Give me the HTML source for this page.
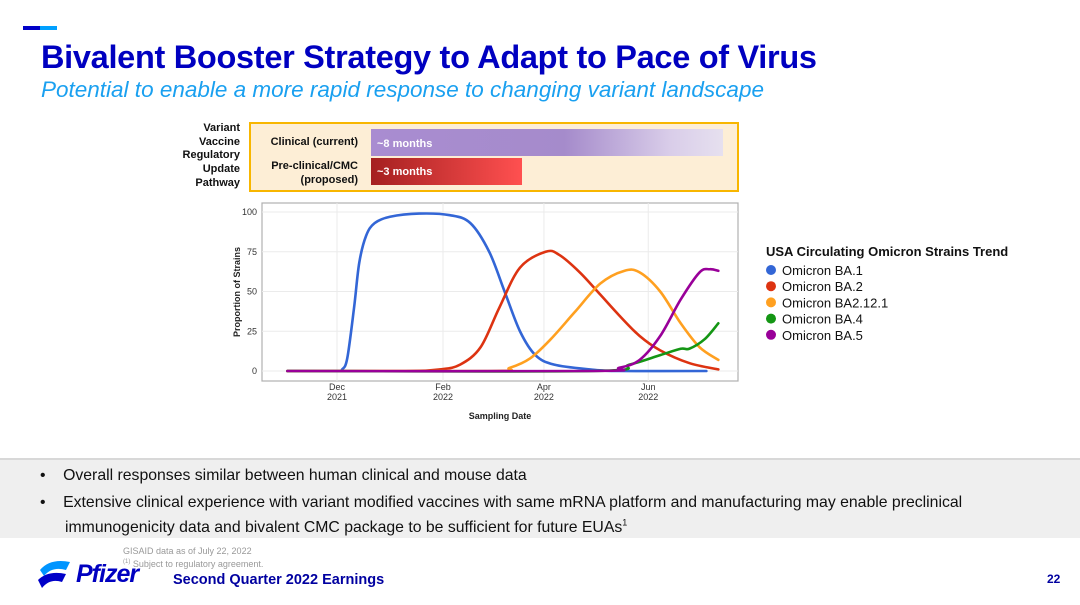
<!DOCTYPE html>
<html><head><meta charset="utf-8"><style>
*{margin:0;padding:0;box-sizing:border-box}
body{width:1080px;height:605px;position:relative;background:#fff;font-family:"Liberation Sans",Arial,sans-serif;overflow:hidden}
.abs{position:absolute}
</style></head><body>
<div class="abs" style="left:23px;top:26px;width:17px;height:4px;background:#0000c8"></div>
<div class="abs" style="left:40px;top:26px;width:17px;height:4px;background:#00a0ff"></div>
<div class="abs" style="left:41px;top:39px;font-size:32.5px;font-weight:bold;color:#0000c0;letter-spacing:-0.3px">Bivalent Booster Strategy to Adapt to Pace of Virus</div>
<div class="abs" style="left:41px;top:77px;font-size:22.5px;font-style:italic;color:#1aa0f0">Potential to enable a more rapid response to changing variant landscape</div>

<div class="abs" style="left:170px;top:122px;width:70px;text-align:right;font-size:11px;font-weight:bold;line-height:13.7px;color:#111">Variant<br>Vaccine<br>Regulatory<br>Update<br>Pathway</div>
<div class="abs" style="left:249px;top:122px;width:490px;height:70px;background:#fdeed6;border:2px solid #f8b600"></div>
<div class="abs" style="left:250px;top:136px;width:108px;text-align:right;font-size:11px;font-weight:bold;color:#111">Clinical (current)</div>
<div class="abs" style="left:371px;top:129px;width:352px;height:27px;background:linear-gradient(90deg,#a98cd1 0%,#a58bcb 55%,#d9cde9 85%,#e6e0ef 100%);color:#fff;font-size:11px;font-weight:bold;padding:9px 0 0 6px">~8 months</div>
<div class="abs" style="left:250px;top:159px;width:108px;text-align:right;font-size:11px;font-weight:bold;line-height:14px;color:#111">Pre-clinical/CMC<br>(proposed)</div>
<div class="abs" style="left:371px;top:158px;width:151px;height:27px;background:linear-gradient(90deg,#a52020,#ff5050);color:#fff;font-size:11px;font-weight:bold;padding:8px 0 0 6px">~3 months</div>

<svg class="abs" style="left:0;top:0" width="1080" height="460">
<rect x="262" y="203" width="476" height="178" fill="#fff" stroke="#b0b0b0" stroke-width="1.2"/>
<g id="grid"></g><g id="axes" font-size="9" fill="#333"></g><g id="lines"></g>
<text x="240" y="292" transform="rotate(-90 240 292)" text-anchor="middle" font-size="9" font-weight="bold" fill="#222">Proportion of Strains</text>
<text x="500" y="419" text-anchor="middle" font-size="9" font-weight="bold" fill="#222">Sampling Date</text>
<text x="766" y="256" font-size="13" font-weight="bold" fill="#111">USA Circulating Omicron Strains Trend</text>
<g id="legend"></g>
</svg>

<div class="abs" style="left:0;top:458px;width:1080px;height:80px;background:#efefef;border-top:2px solid #d8d8d8"></div>
<div class="abs" style="left:40px;top:467px;font-size:15.8px;color:#111">•&nbsp;&nbsp;&nbsp;&nbsp;Overall responses similar between human clinical and mouse data</div>
<div class="abs" style="left:40px;top:493px;font-size:15.8px;color:#111;line-height:20px">•&nbsp;&nbsp;&nbsp;&nbsp;Extensive clinical experience with variant modified vaccines with same mRNA platform and manufacturing may enable preclinical<br><span style="padding-left:25px">immunogenicity data and bivalent CMC package to be sufficient for future EUAs<sup style="font-size:9px">1</sup></span></div>

<div class="abs" style="left:123px;top:546px;font-size:9px;color:#999;line-height:11px">GISAID data as of July 22, 2022<br><sup style="font-size:6px">(1)</sup> Subject to regulatory agreement.</div>
<svg class="abs" style="left:36px;top:556px" width="40" height="40"><path d="M4 14 Q14 2 34 6 L30 14 Q16 10 8 20Z" fill="#0095ff"/><path d="M2 24 Q12 14 30 18 L26 26 Q14 22 6 32Z" fill="#0000c8"/></svg>
<div class="abs" style="left:76px;top:560px;font-size:25px;font-weight:bold;font-style:italic;color:#0000c0;letter-spacing:-1px">Pfizer</div>
<div class="abs" style="left:173px;top:572px;font-size:14.5px;font-weight:bold;color:#0000a0">Second Quarter 2022 Earnings</div>
<div class="abs" style="left:1047px;top:572px;font-size:12px;font-weight:bold;color:#0000a0">22</div>

<script>
const ns="http://www.w3.org/2000/svg";
const yTicks=[0,25,50,75,100];
const xTickDays=[0,62,121,182];
const xTickLabels=["Dec|2021","Feb|2022","Apr|2022","Jun|2022"];
const seriesNames=["Omicron BA.1","Omicron BA.2","Omicron BA2.12.1","Omicron BA.4","Omicron BA.5"];
const seriesColors=["#3366d6","#dd3311","#ffa020","#149614","#990099"];
const ba1Days=[-29,0,3,6,10,13,17,22,31,48,66,78,89,98,107,116,127,148,165,216];
const ba1Vals=[0,0,1,8,40,68,85,93,97,99,98,93,75,50,25,10,4,1,0,0];
const ba2Days=[-29,40,60,72,84,95,107,122,130,142,154,165,177,189,206,223];
const ba2Vals=[0,0,1,4,15,40,65,75,73,62,48,35,22,13,5,1];
const ba212Days=[-29,90,101,113,125,139,154,168,177,189,201,212,223];
const ba212Vals=[0,0,2,8,20,37,55,63,62,50,30,15,7];
const ba4Days=[-29,150,171,189,201,206,215,223];
const ba4Vals=[0,0,4,10,14,14,20,30];
const ba5Days=[-29,150,165,177,189,201,212,218,223];
const ba5Vals=[0,0,2,7,22,45,62,64,63];
const allDays=[ba1Days,ba2Days,ba212Days,ba4Days,ba5Days];
const allVals=[ba1Vals,ba2Vals,ba212Vals,ba4Vals,ba5Vals];
const X=d=>337+d*1.71, Y=v=>371-v*1.59;
function mk(tag,a,p){const e=document.createElementNS(ns,tag);for(const k in a)e.setAttribute(k,a[k]);p.appendChild(e);return e;}
const grid=document.getElementById('grid'),axes=document.getElementById('axes'),lines=document.getElementById('lines'),leg=document.getElementById('legend');
yTicks.forEach(t=>{const g=mk('line',{x1:262,x2:738,y1:Y(t),y2:Y(t),stroke:'#ebebeb'},grid);

const l=mk('text',{x:257,y:Y(t)+3,'text-anchor':'end'},axes);l.textContent=t;
});
xTickDays.forEach((d,i)=>{const g=mk('line',{x1:X(d),x2:X(d),y1:203,y2:381,stroke:'#ebebeb'},grid);

const p=xTickLabels[i].split('|');
const a=mk('text',{x:X(d),y:390,'text-anchor':'middle'},axes);a.textContent=p[0];

const b=mk('text',{x:X(d),y:400,'text-anchor':'middle'},axes);b.textContent=p[1];
});
function smooth(pts){let d=`M${pts[0][0]},${pts[0][1]}`;for(let i=0;i<pts.length-1;i++){const p0=pts[i-1]||pts[i],p1=pts[i],p2=pts[i+1],p3=pts[i+2]||p2;
d+=` C${p1[0]+(p2[0]-p0[0])/6},${p1[1]+(p2[1]-p0[1])/6} ${p2[0]-(p3[0]-p1[0])/6},${p2[1]-(p3[1]-p1[1])/6} ${p2[0]},${p2[1]}`;}return d;}
allDays.forEach((ds,i)=>{const pts=ds.map((d,j)=>[X(d),Y(allVals[i][j])]);
const p=mk('path',{d:smooth(pts),fill:'none',stroke:seriesColors[i],'stroke-width':2.6,'stroke-linecap':'round'},lines);

const c=mk('circle',{cx:771,cy:270+i*16.2,r:5,fill:seriesColors[i]},leg);

const t=mk('text',{x:782,y:275+i*16.2,'font-size':13,fill:'#111'},leg);t.textContent=seriesNames[i];
});
</script>
</body></html>
